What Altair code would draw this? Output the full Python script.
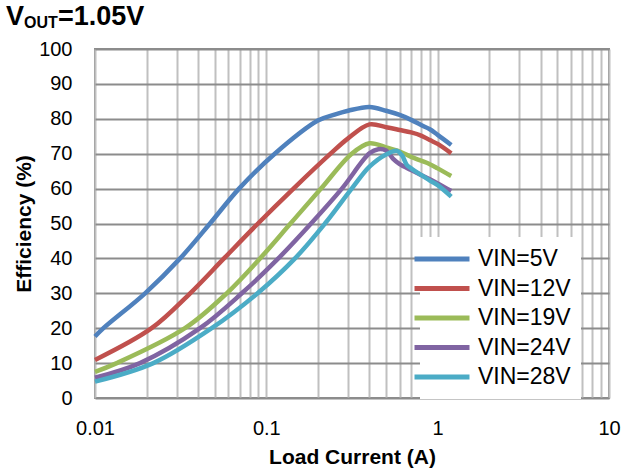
import altair as alt
import pandas as pd

# Efficiency vs. load current for a 1.05 V output at five input voltages
series_names = ["VIN=5V", "VIN=12V", "VIN=19V", "VIN=24V", "VIN=28V"]
series_colors = ["#4F81BD", "#C0504D", "#9BBB59", "#8064A2", "#4BACC6"]

current_5v = [0.01, 0.0112, 0.0196, 0.0314, 0.0469, 0.0693, 0.112, 0.2, 0.25,
              0.3, 0.4, 0.5, 0.6, 0.7, 0.8, 0.9, 1.0, 1.2]
eff_5v = [17.6, 20.0, 30.0, 40.0, 50.0, 60.0, 70.0, 79.5, 81.2,
          82.3, 83.4, 82.3, 81.1, 79.7, 78.2, 77.0, 75.4, 72.5]

current_12v = [0.01, 0.0214, 0.0359, 0.0566, 0.0894, 0.1441, 0.237,
               0.3, 0.4, 0.5, 0.6, 0.7, 0.8, 0.9, 1.0, 1.2]
eff_12v = [10.9, 20.0, 30.0, 40.0, 50.0, 60.0, 70.0,
           74.4, 78.4, 77.6, 76.8, 76.1, 75.2, 73.9, 72.8, 70.1]

current_19v = [0.01, 0.0134, 0.0335, 0.0587, 0.0919, 0.1384, 0.2086, 0.315,
               0.4, 0.5, 0.6, 0.7, 0.8, 0.9, 1.0, 1.2]
eff_19v = [7.5, 10.0, 20.0, 30.0, 40.0, 50.0, 60.0, 70.0,
           73.0, 71.8, 70.6, 69.1, 68.0, 67.0, 65.8, 63.6]

current_24v = [0.01, 0.0183, 0.041, 0.0719, 0.1175, 0.1825, 0.276,
               0.4, 0.45, 0.5, 0.55, 0.6, 0.7, 0.8, 0.9, 1.0, 1.2]
eff_24v = [5.8, 10.0, 20.0, 30.0, 40.0, 50.0, 60.0,
           70.1, 71.3, 70.9, 68.5, 67.0, 65.3, 63.9, 62.7, 61.5, 59.3]

current_28v = [0.01, 0.0219, 0.048, 0.0889, 0.147, 0.22, 0.315,
               0.4, 0.5, 0.58, 0.62, 0.66, 0.7, 0.8, 0.9, 1.0, 1.2]
eff_28v = [4.7, 10.0, 20.0, 30.0, 40.0, 50.0, 60.0,
           66.3, 69.8, 70.8, 69.5, 66.8, 65.8, 63.9, 62.3, 61.0, 57.7]

x_grid_values = [m * 10 ** e for e in (-2, -1, 0) for m in range(1, 10)] + [10]
y_tick_values = list(range(0, 101, 10))

rows = []
for name, cur, eff in zip(
    series_names,
    [current_5v, current_12v, current_19v, current_24v, current_28v],
    [eff_5v, eff_12v, eff_19v, eff_24v, eff_28v],
):
    for i, (c, e) in enumerate(zip(cur, eff)):
        rows.append({"series": name, "current": c, "eff": e, "order": i})
df = pd.DataFrame(rows)

FONT = "Liberation Sans"

lines = alt.Chart(df).mark_line(strokeWidth=4.5, interpolate="catmull-rom").encode(
    x=alt.X(
        "current:Q",
        scale=alt.Scale(type="log", domain=[0.01, 10], nice=False),
        axis=alt.Axis(
            title="Load Current (A)",
            values=x_grid_values,
            format="~g",
            labelExpr="indexof(['0.01','0.1','1','10'], datum.label) >= 0 ? datum.label : ''",
            labelFontSize=20,
            labelFont=FONT,
            labelColor="black",
            labelPadding=20,
            labelFlush=False,
            ticks=False,
            tickSize=0,
            domain=False,
            grid=True,
            gridColor="#c0c0c0",
            gridWidth=2,
            titleFontSize=21,
            titleFont=FONT,
            titleFontWeight="bold",
            titleColor="black",
            titleBaseline="alphabetic",
            titleY=65,
        ),
    ),
    y=alt.Y(
        "eff:Q",
        scale=alt.Scale(domain=[0, 100], nice=False),
        axis=alt.Axis(
            title="Efficiency (%)",
            values=y_tick_values,
            labelFontSize=20,
            labelFont=FONT,
            labelColor="black",
            labelPadding=23,
            ticks=False,
            tickSize=0,
            domain=False,
            grid=True,
            gridColor="#8c8c8c",
            gridWidth=2,
            titleFontSize=21,
            titleFont=FONT,
            titleFontWeight="bold",
            titleColor="black",
            titleAngle=270,
            titleAlign="center",
            titleBaseline="middle",
            titleX=-71,
            titleY=174.5,
        ),
    ),
    color=alt.Color(
        "series:N",
        scale=alt.Scale(domain=series_names, range=series_colors),
        legend=alt.Legend(
            title=None,
            orient="none",
            legendX=325,
            legendY=188,
            symbolType="M-3,0H3",
            symbolSize=336,
            symbolStrokeWidth=5,
            labelFontSize=23,
            labelFont=FONT,
            labelColor="black",
            labelOffset=24,
            fillColor="white",
            padding=10,
            rowPadding=5.5,
        ),
    ),
    order="order:Q",
    detail="series:N",
)

# Chart heading with subscripted OUT
title_v = alt.Chart(pd.DataFrame({"t": ["V"]})).mark_text(
    align="left", baseline="alphabetic", font=FONT, fontWeight="bold", fontSize=27, color="black"
).encode(text="t:N", x=alt.value(-89), y=alt.value(-24))
title_sub = alt.Chart(pd.DataFrame({"t": ["OUT"]})).mark_text(
    align="left", baseline="alphabetic", font=FONT, fontWeight="bold", fontSize=16, color="black"
).encode(text="t:N", x=alt.value(-71), y=alt.value(-21))
title_rest = alt.Chart(pd.DataFrame({"t": ["=1.05V"]})).mark_text(
    align="left", baseline="alphabetic", font=FONT, fontWeight="bold", fontSize=27, color="black"
).encode(text="t:N", x=alt.value(-37), y=alt.value(-24))

chart = alt.layer(lines, title_v, title_sub, title_rest).properties(
    width=514,
    height=349,
    autosize=alt.AutoSizeParams(type="none"),
    padding={"left": 95, "top": 49, "right": 16, "bottom": 72},
    background="white",
).configure_view(stroke="#8c8c8c", strokeWidth=2)

chart.save("out.html", embed_options={"renderer": "svg", "actions": False})
